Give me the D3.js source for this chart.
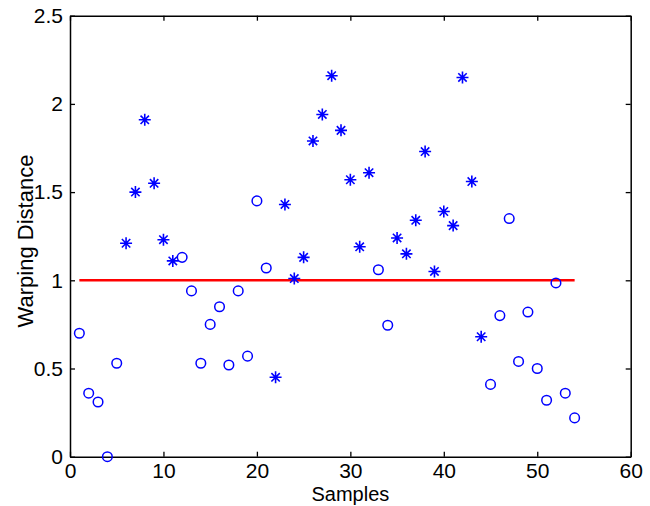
<!DOCTYPE html>
<html>
<head>
<meta charset="utf-8">
<script src="https://cdn.jsdelivr.net/npm/d3@7"></script>
<style>
  body { margin: 0; background: #fff; }
  text { font-family: "Liberation Sans", Arial, sans-serif; }
</style>
</head>
<body>
<div id="container"></div>
<script>
/* DATA */
const samples = [1, 2, 3, 4, 5, 6, 7, 8, 9, 10, 11, 12, 13, 14, 15, 16, 17, 18,
  19, 20, 21, 22, 23, 24, 25, 26, 27, 28, 29, 30, 31, 32, 33, 34, 35, 36,
  37, 38, 39, 40, 41, 42, 43, 44, 45, 46, 47, 48, 49, 50, 51, 52, 53, 54];
const distances = [0.70, 0.36, 0.31, 0.00, 0.53, 1.21, 1.50, 1.91, 1.55, 1.23, 1.11, 1.13, 0.94, 0.53, 0.75, 0.85, 0.52, 0.94,
  0.57, 1.45, 1.07, 0.45, 1.43, 1.01, 1.13, 1.79, 1.94, 2.16, 1.85, 1.57, 1.19, 1.61, 1.06, 0.745, 1.24, 1.15,
  1.34, 1.73, 1.05, 1.39, 1.31, 2.15, 1.56, 0.68, 0.41, 0.80, 1.35, 0.54, 0.82, 0.50, 0.32, 0.985, 0.36, 0.22];
// "o" = circle marker, "*" = asterisk marker
const markers = ["o", "o", "o", "o", "o", "*", "*", "*", "*", "*", "*", "o", "o", "o", "o", "o", "o", "o",
  "o", "o", "o", "*", "*", "*", "*", "*", "*", "*", "*", "*", "*", "*", "o", "o", "*", "*",
  "*", "*", "*", "*", "*", "*", "*", "*", "o", "o", "o", "o", "o", "o", "o", "o", "o", "o"];
const thresholdX = [1, 54];
const thresholdY = 1;
const xTicks = [0, 10, 20, 30, 40, 50, 60];
const yTicks = [0, 0.5, 1, 1.5, 2, 2.5];

/* CONSTANTS */
const width = 650, height = 506;
const margin = { top: 15.7, right: 19.3, bottom: 49.3, left: 70 };

const svg = d3.select("#container")
  .append("svg")
  .attr("width", width)
  .attr("height", height);

const x = d3.scaleLinear().domain([0, 60]).range([margin.left, width - margin.right]);
const y = d3.scaleLinear().domain([0, 2.5]).range([height - margin.bottom, margin.top]);

const data = samples.map((s, i) => ({ s, d: distances[i], m: markers[i] }));

// AXES (inward ticks on all sides, MATLAB box style)
const fontSize = 21;

svg.append("g")
  .attr("transform", `translate(0,${y(0)})`)
  .call(d3.axisBottom(x).tickValues(xTicks).tickSizeInner(-5).tickSizeOuter(0).tickFormat(d3.format("d")))
  .call(g => g.selectAll("text").attr("y", 6).attr("dy", "0.71em").style("font-size", fontSize + "px"));

svg.append("g")
  .attr("transform", `translate(0,${y(2.5)})`)
  .call(d3.axisTop(x).tickValues(xTicks).tickSizeInner(-5).tickSizeOuter(0).tickFormat(""));

svg.append("g")
  .attr("transform", `translate(${x(0)},0)`)
  .call(d3.axisLeft(y).tickValues(yTicks).tickSizeInner(-5).tickSizeOuter(0).tickFormat(d => d))
  .call(g => g.selectAll("text").attr("x", -7).style("font-size", fontSize + "px"));

svg.append("g")
  .attr("transform", `translate(${x(60)},0)`)
  .call(d3.axisRight(y).tickValues(yTicks).tickSizeInner(-5).tickSizeOuter(0).tickFormat(""));

svg.selectAll(".domain").attr("stroke", "#000").attr("stroke-width", 1.5);
svg.selectAll(".tick line").attr("stroke", "#000").attr("stroke-width", 1.3);
svg.selectAll(".tick text").attr("fill", "#000").style("font-family", "'Liberation Sans', Arial, sans-serif");

// THRESHOLD LINE
svg.append("line")
  .attr("x1", x(thresholdX[0]))
  .attr("x2", x(thresholdX[1]))
  .attr("y1", y(thresholdY))
  .attr("y2", y(thresholdY))
  .attr("stroke", "#ff0000")
  .attr("stroke-width", 2.5);

// CIRCLE MARKERS
svg.selectAll(".circ")
  .data(data.filter(d => d.m === "o"))
  .join("circle")
  .attr("class", "circ")
  .attr("cx", d => x(d.s))
  .attr("cy", d => y(d.d))
  .attr("r", 4.8)
  .attr("fill", "none")
  .attr("stroke", "#0000ff")
  .attr("stroke-width", 1.5);

// ASTERISK MARKERS
const star = "M-6,0H6M0,-6V6M-4.2,-4.2L4.2,4.2M-4.2,4.2L4.2,-4.2";
svg.selectAll(".star")
  .data(data.filter(d => d.m === "*"))
  .join("path")
  .attr("class", "star")
  .attr("transform", d => `translate(${x(d.s)},${y(d.d)})`)
  .attr("d", star)
  .attr("fill", "none")
  .attr("stroke", "#0000ff")
  .attr("stroke-width", 1.6);

// AXIS LABELS
svg.append("text")
  .attr("x", (x(0) + x(60)) / 2)
  .attr("y", 501)
  .attr("text-anchor", "middle")
  .style("font-size", "20px")
  .text("Samples");

svg.append("text")
  .attr("transform", "translate(33,241) rotate(-90)")
  .attr("text-anchor", "middle")
  .style("font-size", "22px")
  .text("Warping Distance");
</script>
</body>
</html>
